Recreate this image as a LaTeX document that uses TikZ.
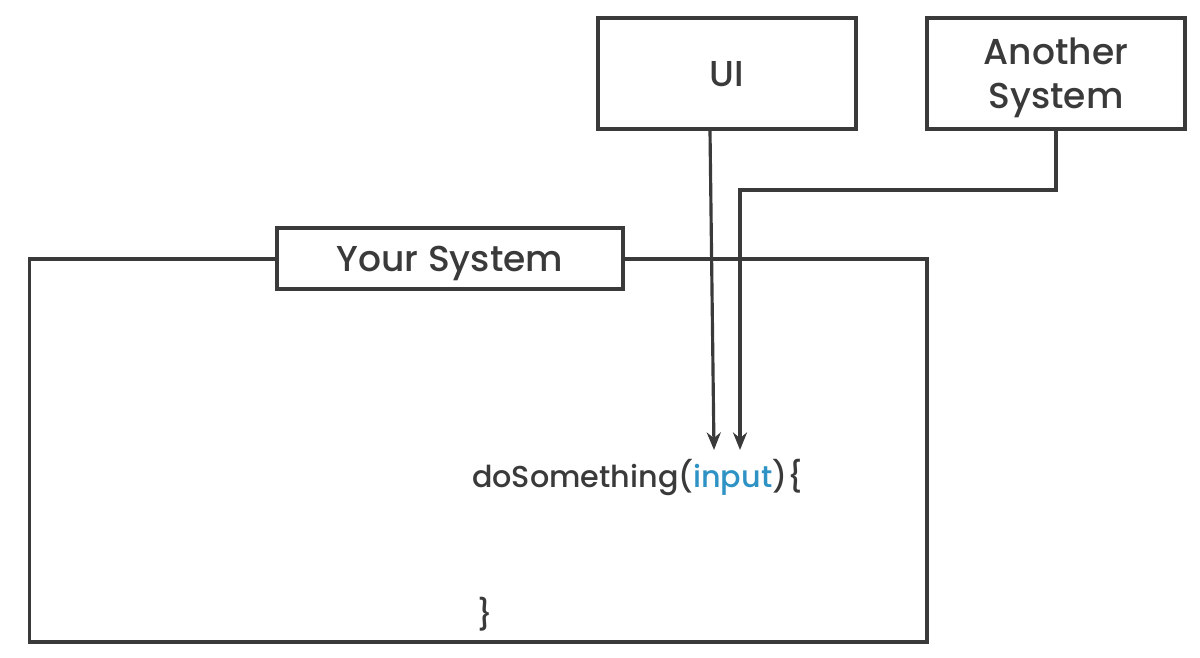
\documentclass[tikz,border=0pt]{standalone}
\usepackage{fontspec}
\setmainfont{Poppins}[UprightFont=* Medium]
\usetikzlibrary{arrows.meta}
\definecolor{linegray}{HTML}{3A3A3A}
\definecolor{inputblue}{HTML}{2E93C4}
\begin{document}
\begin{tikzpicture}[x=0.02cm, y=-0.02cm,
        sysbox/.style={draw=linegray, line width=1.8pt, fill=white, text=linegray,
            font=\fontsize{20.5}{25}\selectfont, align=center, inner sep=0pt, text depth=0pt},
        link/.style={linegray, line width=1.8pt},
        feed/.style={link, -{Stealth[length=10pt, width=8pt]}}]
            \useasboundingbox (0,0) rectangle (1200,658);

            % the system frame, its title box sits on the top edge
            \node[draw=linegray, line width=1.8pt, minimum width=17.96cm, minimum height=7.66cm,
                inner sep=0pt] (frame) at (478,450.5) {};
            \node[sysbox, minimum width=6.92cm, minimum height=1.22cm] (yoursys) at (450,258.5) {Your System};

            \node[sysbox, minimum width=5.16cm, minimum height=2.22cm] (ui) at (727,73.5) {UI};
            \node[sysbox, minimum width=5.16cm, minimum height=2.22cm] (another) at (1056,73.5) {Another\\System};

            \node[text=linegray, font=\fontsize{17.2}{20}\selectfont, anchor=base west] (call) at (466,487)
                {doSomething(\textcolor{inputblue}{input})\{};
            \node[text=linegray, font=\fontsize{17.2}{20}\selectfont, anchor=base west] (close) at (471,625) {\}};

            \coordinate (uiend) at (714,450);
            \coordinate (anotherend) at (740,450);

            \draw[feed] (ui.south -| 710,0) -- (uiend);
            \draw[feed] (another.south) |- (740,190) -- (anotherend);
        \end{tikzpicture}
\end{document}
